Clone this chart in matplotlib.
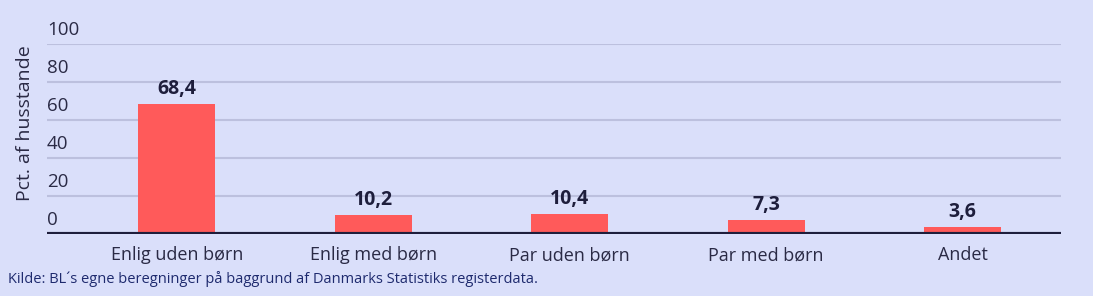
import numpy as np
import matplotlib.pyplot as plt

# Husstandstyper og andel i pct.
categories = ["Enlig uden børn", "Enlig med børn", "Par uden børn", "Par med børn", "Andet"]
values = [68.4, 10.2, 10.4, 7.3, 3.6]
yticks = [0, 20, 40, 60, 80, 100]

bg = "#dadffa"
bar_color = "#ff5a5a"
grid_color = "#bcc0de"
dark = "#1e1e3c"

plt.rcParams['font.family'] = ['Open Sans', 'DejaVu Sans']

fig = plt.figure(figsize=(10.93, 2.96), dpi=100, facecolor=bg)
ax = fig.add_axes([47 / 1093, (296 - 234) / 296, (1061 - 47) / 1093, 190 / 296])
ax.set_facecolor(bg)

x = np.arange(len(categories))
ax.bar(x, values, width=0.39, color=bar_color, zorder=3)

for xi, v in zip(x, values):
    ax.text(xi, v + 2.5, f"{v:.1f}".replace(".", ","), ha="center", va="bottom",
            fontsize=14, fontweight="bold", color=dark, zorder=4)

for t in yticks:
    if t > 0:
        ax.axhline(t, color=grid_color, lw=1.5, zorder=1)
    ax.text(-0.66, t + 2.5, str(t), ha="left", va="bottom", fontsize=13.5,
            color="#2a2a45", transform=ax.transData)
ax.axhline(0, color=dark, lw=3, zorder=5)

ax.set_xlim(-0.66, 4.5)
ax.set_ylim(0, 100)
ax.set_yticks([])
ax.set_xticks(x)
ax.set_xticklabels(categories, fontsize=13, color="#2a2a45")
ax.tick_params(axis="x", length=0, pad=9)
for s in ax.spines.values():
    s.set_visible(False)

fig.text(25 / 1093, (296 - 123) / 296, "Pct. af husstande", rotation=90, ha="center",
         va="center", fontsize=14, color="#2a2a45")
fig.text(8 / 1093, (296 - 279) / 296, "Kilde: BL´s egne beregninger på baggrund af Danmarks Statistiks registerdata.",
         ha="left", va="center", fontsize=10.5, color="#1e2a6e")

fig.savefig("out.png", dpi=100, facecolor=bg)
